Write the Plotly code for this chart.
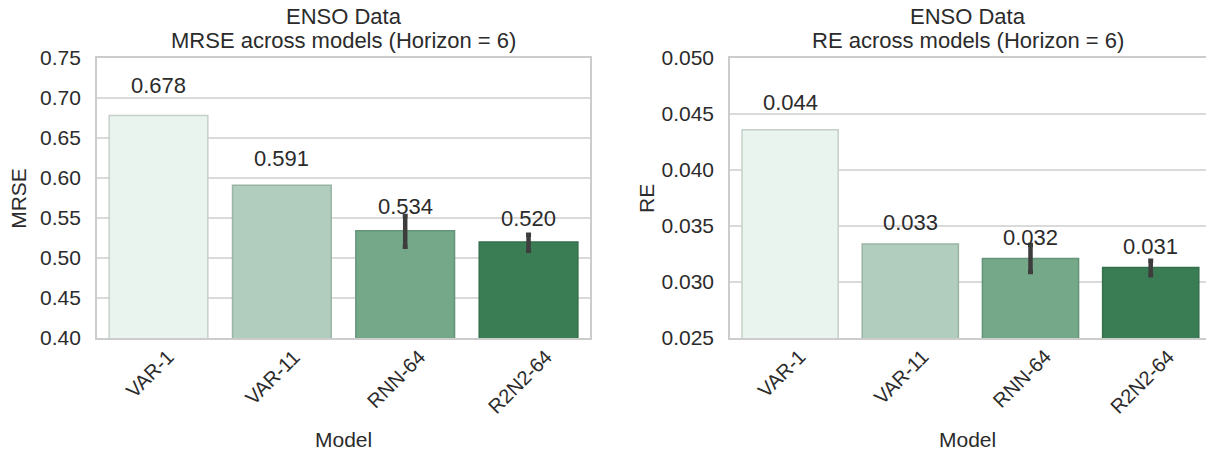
import plotly.graph_objects as go

# Model names and per-model scores (horizon = 6)
models = ["VAR-1", "VAR-11", "RNN-64", "R2N2-64"]
mrse = [0.678, 0.591, 0.534, 0.520]
re = [0.0436, 0.0334, 0.0321, 0.0313]

# spread over repeated runs, only available for the recurrent models
err_models = ["RNN-64", "R2N2-64"]
mrse_err_center = [0.534, 0.520]
mrse_err_hi = [0.0185, 0.009]
mrse_err_lo = [0.020, 0.011]
re_err_center = [0.0321, 0.0313]
re_err_hi = [0.0012, 0.0006]
re_err_lo = [0.0012, 0.0007]

bar_colors = ["#eaf4ee", "#b1cdbd", "#74a889", "#3a7d55"]
edge_colors = ["#c6d0ca", "#9ab4a5", "#64947a", "#33704c"]

FONT = "Liberation Sans, Arial, sans-serif"
TEXT = "#2b2b2b"
GRID = "#dadada"
FS = 21

fig = go.Figure()

panels = [
    ("x", "y", mrse, mrse_err_center, mrse_err_hi, mrse_err_lo, "MRSE", -78),
    ("x2", "y2", re, re_err_center, re_err_hi, re_err_lo, "RE", -83),
]

for xa, ya, vals, ec, hi, lo, metric, ylab_shift in panels:
    fig.add_trace(go.Bar(
        x=models, y=vals, xaxis=xa, yaxis=ya, width=0.8,
        marker=dict(color=bar_colors, line=dict(color=edge_colors, width=1.5)),
        showlegend=False, hoverinfo="skip",
    ))
    fig.add_trace(go.Scatter(
        x=err_models, y=ec, xaxis=xa, yaxis=ya, mode="markers",
        marker=dict(size=1, opacity=0),
        error_y=dict(type="data", symmetric=False, array=hi, arrayminus=lo,
                     color="#3d3d3d", thickness=4.5, width=2.5),
        showlegend=False, hoverinfo="skip",
    ))
    # value labels placed a little above each bar
    for m, v in zip(models, vals):
        fig.add_annotation(
            x=m, y=v * 1.05, xref=xa, yref=ya, text=format(v, ".3f"),
            showarrow=False, yanchor="middle", yshift=3,
            font=dict(family=FONT, size=22, color=TEXT),
        )
    # rotated category labels centred under each bar
    for m in models:
        fig.add_annotation(
            x=m, y=0, xref=xa, yref=f"{ya} domain", text=m, textangle=-45,
            showarrow=False, xanchor="center", yanchor="top",
            xshift=-9, yshift=-5,
            font=dict(family=FONT, size=20, color=TEXT),
        )
    # axis titles
    fig.add_annotation(
        x=0.5, y=0, xref=f"{xa} domain", yref=f"{ya} domain", text="Model",
        showarrow=False, xanchor="center", yanchor="middle", yshift=-102,
        font=dict(family=FONT, size=FS, color=TEXT),
    )
    fig.add_annotation(
        x=0, y=0.5, xref=f"{xa} domain", yref=f"{ya} domain", text=metric,
        textangle=-90, showarrow=False, xanchor="center", yanchor="middle",
        xshift=ylab_shift,
        font=dict(family=FONT, size=FS, color=TEXT),
    )
    # two-line panel title
    for line, dy in [("ENSO Data", 41), (f"{metric} across models (Horizon = 6)", 17)]:
        fig.add_annotation(
            x=0.5, y=1, xref=f"{xa} domain", yref=f"{ya} domain", text=line,
            showarrow=False, xanchor="center", yanchor="middle", yshift=dy,
            font=dict(family=FONT, size=22, color=TEXT),
        )

axis_common = dict(
    showline=True, linecolor="#cccccc", linewidth=1.5, mirror=True,
    ticks="", automargin=False,
    tickfont=dict(family=FONT, size=FS, color=TEXT),
)

fig.update_layout(
    width=1206, height=457,
    margin=dict(l=0, r=0, t=0, b=0),
    paper_bgcolor="white", plot_bgcolor="white",
    xaxis=dict(domain=[0.0803, 0.4894], range=[-0.5, 3.5],
               showgrid=False, showticklabels=False, **axis_common),
    yaxis=dict(domain=[0.2604, 0.8731], range=[0.40, 0.75], dtick=0.05, tickformat=".2f",
               showgrid=True, gridcolor=GRID, gridwidth=1.5, zeroline=False,
               ticklabelstandoff=10, **axis_common),
    xaxis2=dict(domain=[0.6053, 1.0], range=[-0.5, 3.46], anchor="y2",
                showgrid=False, showticklabels=False, **axis_common),
    yaxis2=dict(domain=[0.2604, 0.8731], range=[0.025, 0.050], dtick=0.005, tickformat=".3f",
                showgrid=True, gridcolor=GRID, gridwidth=1.5, zeroline=False, anchor="x2",
                ticklabelstandoff=10, **axis_common),
)

fig.write_html("out.html")
